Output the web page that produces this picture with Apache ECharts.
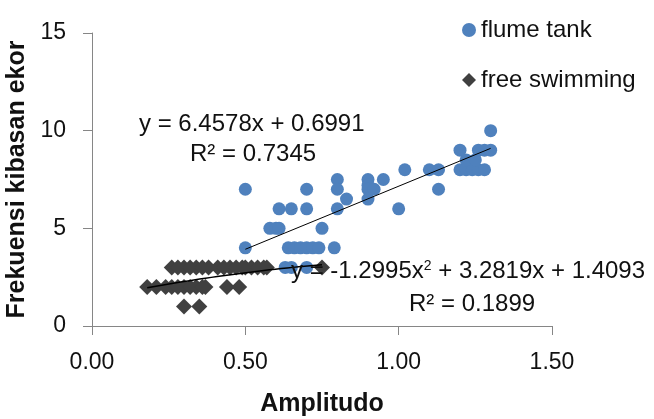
<!DOCTYPE html>
<html>
<head>
<meta charset="UTF-8">
<title>Amplitudo vs Frekuensi kibasan ekor</title>
<style>
  html, body { margin: 0; padding: 0; background: #fff; }
  #chart { width: 654px; height: 419px; }
</style>
</head>
<body>
<div id="chart"></div>
<script src="https://cdn.jsdelivr.net/npm/echarts@6/dist/echarts.min.js"></script>
<script>
// flume tank points
var flumeX = [0.50, 0.50, 0.58, 0.60, 0.61, 0.61, 0.65, 0.70, 0.70,
              0.80, 0.80, 0.83, 0.80, 0.75,
              0.64, 0.66, 0.68, 0.70, 0.72, 0.74, 0.79,
              0.63, 0.65, 0.70,
              0.90, 0.90, 0.90, 0.90, 0.92, 0.95,
              1.00, 1.02, 1.10, 1.13, 1.13,
              1.20, 1.26, 1.28, 1.30, 1.30,
              1.20, 1.22, 1.24, 1.26, 1.28, 1.22, 1.25];
var flumeY = [7, 4, 5, 5, 5, 6, 6, 6, 7,
              7.5, 7, 6.5, 6, 5,
              4, 4, 4, 4, 4, 4, 4,
              3, 3, 3,
              7.5, 7.2, 7, 6.5, 7, 7.5,
              6, 8, 8, 8, 7,
              9, 9, 9, 9, 10,
              8, 8, 8, 8, 8, 8.5, 8.5];

// free swimming points
var freeX = [0.26, 0.28, 0.30, 0.32, 0.34, 0.36, 0.38, 0.41, 0.43, 0.45, 0.47, 0.49, 0.50, 0.52, 0.54, 0.56, 0.57, 0.75,
             0.18, 0.21, 0.24, 0.26, 0.28, 0.30, 0.32, 0.34, 0.36, 0.37, 0.44, 0.48,
             0.30, 0.35];
var freeY = [3, 3, 3, 3, 3, 3, 3, 3, 3, 3, 3, 3, 3, 3, 3, 3, 3, 3,
             2, 2, 2, 2, 2, 2, 2, 2, 2, 2, 2, 2,
             1, 1];

// trendlines as printed on the chart
var flumeCoef = [0.6991, 6.4578];            // c0 + c1 x
var flumeRange = [0.50, 1.30];
var freeCoef = [1.4093, 3.2819, -1.2995];    // c0 + c1 x + c2 x^2
var freeRange = [0.18, 0.75];

var xTicks = [0, 0.5, 1.0, 1.5];
var yTicks = [0, 5, 10, 15];

function pairs(xs, ys) {
    var res = [];
    for (var i = 0; i < xs.length; i++) res.push([xs[i], ys[i]]);
    return res;
}
function poly(coef, x) {
    var y = 0;
    for (var i = 0; i < coef.length; i++) y += coef[i] * Math.pow(x, i);
    return y;
}
function curve(coef, range, n) {
    var res = [];
    for (var i = 0; i <= n; i++) {
        var x = range[0] + (range[1] - range[0]) * i / n;
        res.push([x, poly(coef, x)]);
    }
    return res;
}

var font = 'Liberation Sans, Arial, sans-serif';
var axisGray = '#868686';

var chart = echarts.init(document.getElementById('chart'));
var option = {
    animation: false,
    textStyle: { fontFamily: font },
    grid: { left: 92, right: 102, top: 33, bottom: 93, outerBoundsMode: 'none' },
    legend: {
        orient: 'vertical',
        left: 457,
        top: 13,
        itemWidth: 14,
        itemHeight: 14,
        itemGap: 26,
        textStyle: { fontSize: 24, color: '#111', fontFamily: font },
        data: ['flume tank', 'free swimming']
    },
    xAxis: {
        type: 'value',
        min: xTicks[0],
        max: xTicks[xTicks.length - 1],
        interval: 0.5,
        name: 'Amplitudo',
        nameLocation: 'middle',
        nameGap: 66,
        nameTextStyle: { fontSize: 25, fontWeight: 'bold', color: '#111' },
        axisLine: { lineStyle: { color: axisGray, width: 1 } },
        axisTick: { show: true, length: 9, lineStyle: { color: axisGray } },
        axisLabel: {
            fontSize: 23, color: '#111', margin: 25,
            formatter: function (v) { return v.toFixed(2); }
        },
        splitLine: { show: false }
    },
    yAxis: {
        type: 'value',
        min: yTicks[0],
        max: yTicks[yTicks.length - 1],
        interval: 5,
        name: 'Frekuensi kibasan ekor',
        nameLocation: 'middle',
        nameGap: 53,
        nameTextStyle: { fontSize: 25, fontWeight: 'bold', color: '#111' },
        axisLine: { show: true, lineStyle: { color: axisGray, width: 1 } },
        axisTick: { show: true, length: 9, lineStyle: { color: axisGray } },
        axisLabel: { fontSize: 23, color: '#111', margin: 26 },
        splitLine: { show: false }
    },
    graphic: [
        { type: 'text', left: 139, top: 112, z: 10,
          style: { text: 'y = 6.4578x + 0.6991', fontSize: 24, fill: '#111', fontFamily: font } },
        { type: 'text', left: 190, top: 142, z: 10,
          style: { text: 'R² = 0.7345', fontSize: 24, fill: '#111', fontFamily: font } },
        { type: 'text', left: 291, top: 259, z: 10,
          style: {
              text: '{a|y = -1.2995x}{s|2}{a| + 3.2819x + 1.4093}',
              fontFamily: font,
              rich: {
                  a: { fontSize: 24, fill: '#111', color: '#111', fontFamily: font },
                  s: { fontSize: 14, fill: '#111', color: '#111', verticalAlign: 'top', fontFamily: font }
              }
          } },
        { type: 'text', left: 409, top: 292, z: 10,
          style: { text: 'R² = 0.1899', fontSize: 24, fill: '#111', fontFamily: font } }
    ],
    series: [
        {
            name: 'flume tank',
            type: 'scatter',
            symbol: 'circle',
            symbolSize: 13,
            itemStyle: { color: '#4F81BD', opacity: 1 },
            data: pairs(flumeX, flumeY),
            z: 2
        },
        {
            name: 'free swimming',
            type: 'scatter',
            symbol: 'diamond',
            symbolSize: 16,
            itemStyle: { color: '#404040', opacity: 1 },
            data: pairs(freeX, freeY),
            z: 3
        },
        {
            name: 'trend flume',
            type: 'line',
            showSymbol: false,
            silent: true,
            lineStyle: { color: '#000', width: 1 },
            data: curve(flumeCoef, flumeRange, 2),
            z: 5
        },
        {
            name: 'trend free',
            type: 'line',
            showSymbol: false,
            silent: true,
            smooth: false,
            lineStyle: { color: '#000', width: 1.5 },
            data: curve(freeCoef, freeRange, 30),
            z: 5
        }
    ]
};
chart.setOption(option);
</script>
</body>
</html>
